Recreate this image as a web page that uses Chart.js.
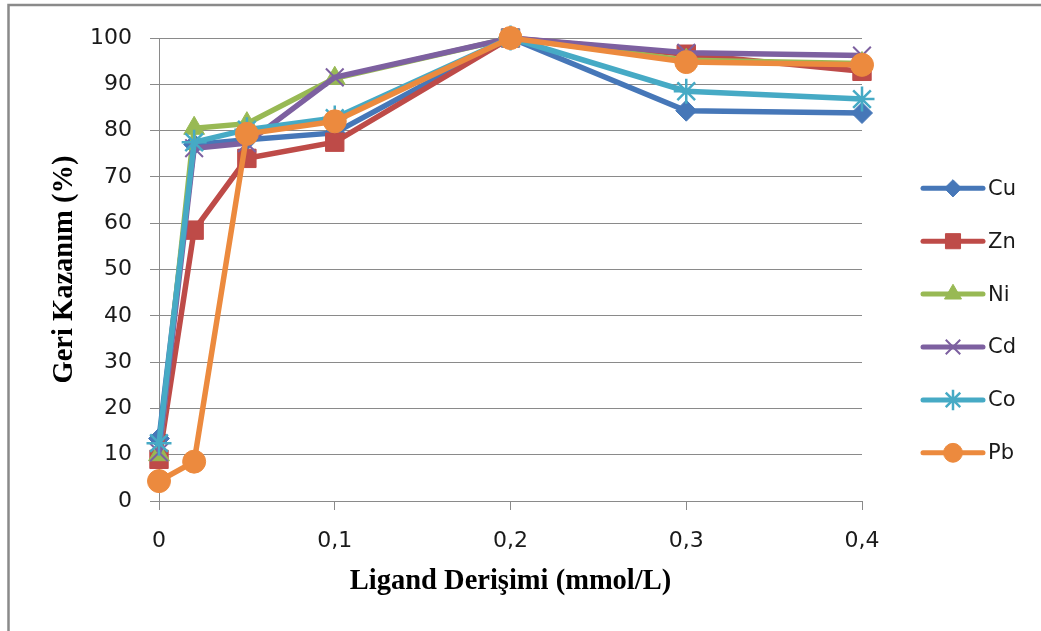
<!DOCTYPE html>
<html><head><meta charset="utf-8">
<script src="https://cdn.jsdelivr.net/npm/chart.js@4/dist/chart.umd.min.js"></script>
<style>html,body{margin:0;padding:0;background:#fff;overflow:hidden}canvas{display:block}</style>
</head><body>
<canvas id="c" width="1041" height="631"></canvas>
<script>
const concentrations = [0, 0.02, 0.05, 0.1, 0.2, 0.3, 0.4];
const seriesNames = ['Cu', 'Zn', 'Ni', 'Cd', 'Co', 'Pb'];
const cuValues = [13.5, 77, 78, 79.5, 100, 84.3, 83.8];
const znValues = [9, 58.5, 74, 77.5, 100, 96.5, 92.8];
const niValues = [10, 80.5, 81.5, 91.3, 100, 95.2, 94.5];
const cdValues = [10.5, 76.2, 77.3, 91.5, 100, 96.8, 96.2];
const coValues = [12.5, 77.5, 80.2, 82.7, 100, 88.5, 86.8];
const pbValues = [4.3, 8.5, 79.3, 82, 100, 94.8, 94.2];
const xTickValues = [0, 0.1, 0.2, 0.3, 0.4];
const xTickLabels = ['0', '0,1', '0,2', '0,3', '0,4'];
const yTickValues = [0, 10, 20, 30, 40, 50, 60, 70, 80, 90, 100];
const yTickLabels = ['0', '10', '20', '30', '40', '50', '60', '70', '80', '90', '100'];
const xTitle = 'Ligand Derişimi (mmol/L)';
const yTitle = 'Geri Kazanım (%)';

const allValues = [cuValues, znValues, niValues, cdValues, coValues, pbValues];
const colors = ['#4677B8', '#BE4B48', '#98B954', '#7D60A0', '#46AAC5', '#EC8A3E'];
const styles = ['rectRot', 'rect', 'triangle', 'crossRot', 'star', 'circle'];
const radii = [10.5, 13, 12, 12.5, 12.5, 11.5];
const pBorder = [1, 1, 1, 2, 2.5, 1];

const datasets = seriesNames.map((name, i) => ({
  label: name,
  data: concentrations.map((x, j) => ({x: x, y: allValues[i][j]})),
  borderColor: colors[i],
  backgroundColor: colors[i],
  pointBackgroundColor: colors[i],
  pointBorderColor: colors[i],
  pointStyle: styles[i],
  pointRadius: radii[i],
  pointBorderWidth: pBorder[i],
  borderWidth: 5.5,
  tension: 0,
  clip: false,
  order: seriesNames.length - i
}));

const framePlugin = {
  id: 'frameLegend',
  afterDraw(chart) {
    const ctx = chart.ctx;
    ctx.save();
    ctx.strokeStyle = '#8a8a8a';
    ctx.lineWidth = 2.5;
    ctx.beginPath();
    ctx.moveTo(8.5, 631);
    ctx.lineTo(8.5, 5);
    ctx.lineTo(1041, 5);
    ctx.stroke();
    // legend
    const x0 = 923, x1 = 983, y0 = 188.3, dy = 52.9;
    chart.data.datasets.forEach((ds, i) => {
      const y = y0 + i * dy;
      ctx.strokeStyle = ds.borderColor;
      ctx.lineWidth = 5;
      ctx.lineCap = 'round';
      ctx.beginPath();
      ctx.moveTo(x0, y);
      ctx.lineTo(x1, y);
      ctx.stroke();
      ctx.lineCap = 'butt';
      ctx.fillStyle = ds.pointBackgroundColor;
      ctx.strokeStyle = ds.pointBorderColor;
      ctx.lineWidth = ds.pointBorderWidth;
      Chart.helpers.drawPoint(ctx, {pointStyle: ds.pointStyle, radius: ds.pointRadius * 0.82, rotation: 0, borderWidth: ds.pointBorderWidth}, (x0 + x1) / 2, y);
      ctx.fillStyle = '#1a1a1a';
      ctx.font = '21px "DejaVu Sans"';
      ctx.textAlign = 'left';
      ctx.textBaseline = 'middle';
      ctx.fillText(ds.label, 988, y + 1);
    });
    ctx.restore();
  }
};

new Chart(document.getElementById('c'), {
  type: 'line',
  data: {datasets: datasets},
  options: {
    responsive: false,
    animation: false,
    layout: {padding: {left: 48, top: 38, right: 179, bottom: 32}},
    plugins: {legend: {display: false}, tooltip: {enabled: false}},
    scales: {
      x: {
        type: 'linear', min: 0, max: 0.4,
        afterBuildTicks: s => { s.ticks = xTickValues.map(v => ({value: v})); },
        afterFit: s => { s.height = 98; },
        grid: {display: true, drawOnChartArea: false, drawTicks: true, tickLength: 9, color: '#8a8a8a'},
        border: {color: '#8a8a8a', width: 1},
        ticks: {callback: (v, i) => xTickLabels[i], font: {family: 'DejaVu Sans', size: 22}, color: '#1a1a1a', padding: 18, maxRotation: 0, autoSkip: false},
        title: {display: true, text: xTitle, font: {family: 'Liberation Serif', size: 28.5, weight: 'bold'}, color: '#000', padding: 0}
      },
      y: {
        type: 'linear', min: 0, max: 100,
        afterBuildTicks: s => { s.ticks = yTickValues.map(v => ({value: v})); },
        afterFit: s => { s.width = 111; },
        grid: {display: true, drawTicks: true, tickLength: 9, color: '#8a8a8a'},
        border: {color: '#8a8a8a', width: 1},
        ticks: {callback: (v, i) => yTickLabels[i], font: {family: 'DejaVu Sans', size: 22}, color: '#1a1a1a', padding: 18, autoSkip: false},
        title: {display: true, text: yTitle, font: {family: 'Liberation Serif', size: 28.5, weight: 'bold'}, color: '#000', padding: 0}
      }
    }
  },
  plugins: [framePlugin]
});
</script>
</body></html>
